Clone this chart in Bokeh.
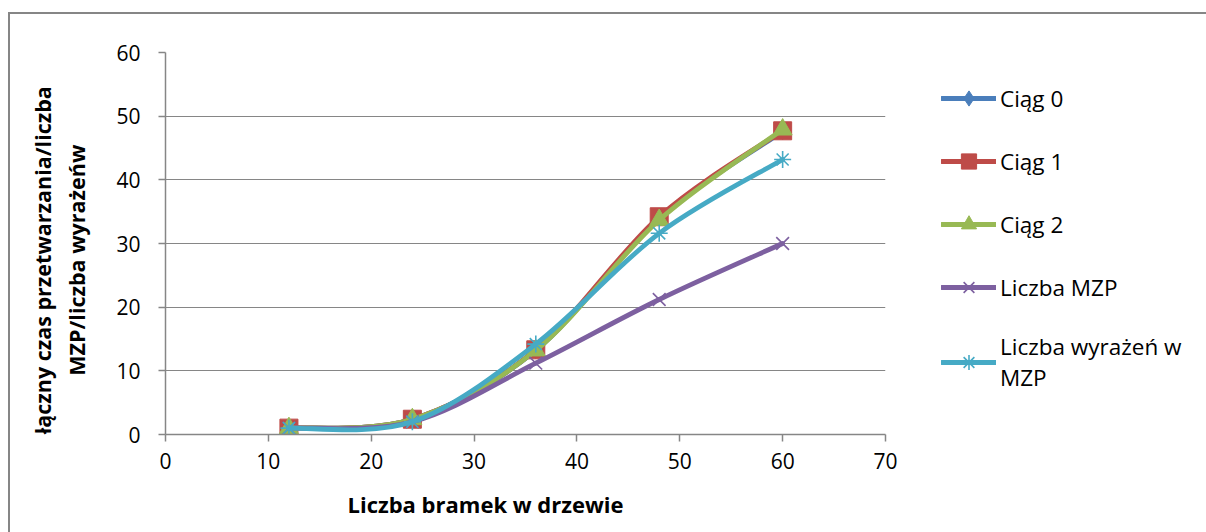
from bokeh.plotting import figure
from bokeh.models import Legend, LegendItem, FixedTicker, InlineStyleSheet, Range1d, Title
from bokeh.embed import file_html
from bokeh.resources import INLINE

# ---- data ----
x_vals = [12, 24, 36, 48, 60]
ciag0 = [1.0, 2.4, 13.2, 34.0, 47.6]
ciag1 = [1.0, 2.4, 13.3, 34.2, 47.7]
ciag2 = [1.0, 2.4, 13.2, 33.7, 47.9]
liczba_mzp = [1.0, 2.0, 11.2, 21.2, 30.0]
liczba_wyr = [1.0, 2.0, 14.2, 31.6, 43.2]

series_names = ["Ciąg 0", "Ciąg 1", "Ciąg 2", "Liczba MZP", "Liczba wyrażeń w\nMZP"]
x_ticks = [0, 10, 20, 30, 40, 50, 60, 70]
y_ticks = [0, 10, 20, 30, 40, 50, 60]

x_title = "Liczba bramek w drzewie"
y_title_lines = ["łączny czas przetwarzania/liczba", "MZP/liczba wyrażeńw"]

colors = ["#4A7EBB", "#BE4B48", "#98B954", "#7D60A0", "#46AAC5"]
markers = ["diamond", "square", "triangle", "x", "asterisk"]
msizes = [16, 18, 19, 18, 17]

FONT = "Open Sans"
GRID = "#868686"
PAD = "\u00a0" * 6  # pushes the centred title slightly down, as in the reference


def smooth_segments(xs, ys, t=1.0 / 6.0):
    """Bezier control points (Catmull-Rom style) for a smoothed line like Excel's."""
    n = len(xs)
    seg = dict(x0=[], y0=[], x1=[], y1=[], cx0=[], cy0=[], cx1=[], cy1=[])
    for i in range(n - 1):
        xp, yp = (xs[i - 1], ys[i - 1]) if i > 0 else (xs[i], ys[i])
        xn, yn = (xs[i + 2], ys[i + 2]) if i + 2 < n else (xs[i + 1], ys[i + 1])
        seg["x0"].append(xs[i]); seg["y0"].append(ys[i])
        seg["x1"].append(xs[i + 1]); seg["y1"].append(ys[i + 1])
        seg["cx0"].append(xs[i] + (xs[i + 1] - xp) * t)
        seg["cy0"].append(ys[i] + (ys[i + 1] - yp) * t)
        seg["cx1"].append(xs[i + 1] - (xn - xs[i]) * t)
        seg["cy1"].append(ys[i + 1] - (yn - ys[i]) * t)
    return seg


p = figure(
    frame_width=720, frame_height=382,
    x_range=Range1d(0, 70), y_range=Range1d(0, 60),
    output_backend="svg", toolbar_location=None,
    min_border_left=165, min_border_right=0, min_border_top=52, min_border_bottom=98,
)
p.stylesheets = [InlineStyleSheet(css=(
    ":host { background: "
    "linear-gradient(#868686, #868686) 8px 12px / 100% 2px no-repeat, "
    "linear-gradient(#868686, #868686) 8px 12px / 2px 100% no-repeat, white; }"
))]
p.outline_line_color = None
p.background_fill_color = "white"
p.border_fill_color = None

p.xgrid.grid_line_color = None
p.ygrid.grid_line_color = GRID
p.ygrid.grid_line_width = 1

p.xaxis.ticker = FixedTicker(ticks=x_ticks)
p.yaxis.ticker = FixedTicker(ticks=y_ticks)
for ax in (p.xaxis, p.yaxis):
    ax.axis_line_color = GRID
    ax.axis_line_width = 1.5
    ax.major_tick_line_color = GRID
    ax.major_tick_line_width = 1.5
    ax.major_tick_in = 0
    ax.major_tick_out = 7
    ax.minor_tick_line_color = None
    ax.major_label_text_font = FONT
    ax.major_label_text_font_size = "21px"
    ax.major_label_text_color = "black"
    ax.axis_label_text_font = FONT
    ax.axis_label_text_font_size = "21.5px"
    ax.axis_label_text_font_style = "bold"
    ax.axis_label_text_color = "black"

p.yaxis.axis_label = "\n".join(line + PAD for line in y_title_lines)
p.xaxis.major_label_standoff = 11
p.yaxis.major_label_standoff = 18
p.yaxis.axis_label_standoff = 22

# x-axis title, placed off-centre as in the reference
xt = Title(text=x_title, align="left", offset=182, standoff=30,
           text_font=FONT, text_font_size="22px", text_font_style="bold",
           text_color="black")
p.add_layout(xt, "below")

all_series = [ciag0, ciag1, ciag2, liczba_mzp, liczba_wyr]
items = []
for name, ys, col, mk, ms in zip(series_names, all_series, colors, markers, msizes):
    seg = smooth_segments(x_vals, ys)
    br = p.bezier(x0=seg["x0"], y0=seg["y0"], x1=seg["x1"], y1=seg["y1"],
                  cx0=seg["cx0"], cy0=seg["cy0"], cx1=seg["cx1"], cy1=seg["cy1"],
                  line_color=col, line_width=4.8, line_cap="round")
    lw = 1.6 if mk in ("x", "asterisk") else 1
    sr = p.scatter(x_vals, ys, marker=mk, size=ms, fill_color=col, line_color=col, line_width=lw)
    items.append(LegendItem(label=name, renderers=[br, sr]))

legend = Legend(items=items, location=(56, 41))
legend.glyph_width = 55
legend.glyph_height = 38
legend.label_height = 38
legend.spacing = 25
legend.label_standoff = 4
legend.padding = 0
legend.margin = 0
legend.border_line_color = None
legend.background_fill_alpha = 0
legend.label_text_font = FONT
legend.label_text_font_size = "22.5px"
legend.label_text_color = "black"
p.add_layout(legend, "right")

open("out.html", "w").write(file_html(p, INLINE))
